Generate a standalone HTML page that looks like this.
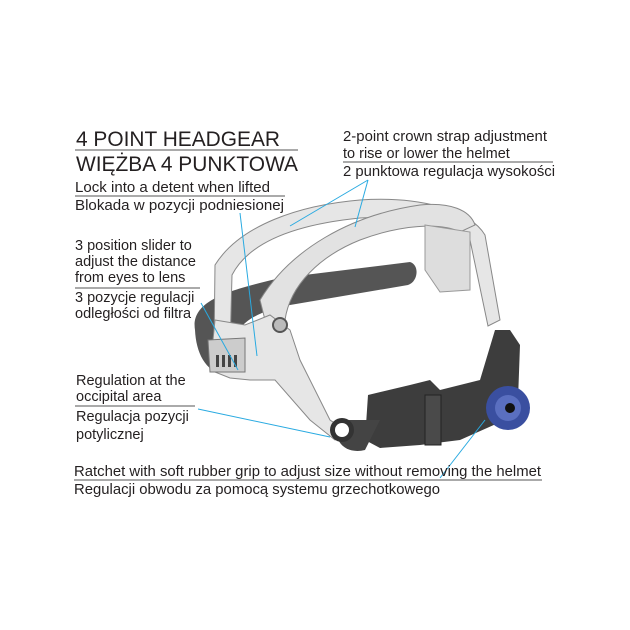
<!DOCTYPE html>
<html><head><meta charset="utf-8"><style>
html,body{margin:0;padding:0;background:#fff;}
svg{display:block}
text{font-family:"Liberation Sans",sans-serif;fill:#231f20;}
</style></head><body>
<svg width="630" height="630" viewBox="0 0 630 630" xmlns="http://www.w3.org/2000/svg">
<!-- dark back band -->
<path d="M195,330 C190,300 230,290 280,278 L410,262 C420,265 418,282 408,285 L290,305 C250,312 230,330 235,350 L225,375 C205,372 196,352 195,330 Z" fill="#555"/>
<path d="M368,395 L410,385 L430,380 L440,390 L480,380 L495,330 L510,330 L520,345 L518,400 L505,420 L460,440 L420,445 L380,448 L365,440 Z" fill="#3d3d3d"/>
<path d="M340,420 C330,440 345,455 365,450 L380,420 Z" fill="#444"/>
<!-- light straps -->
<path d="M215,265 C240,225 300,205 360,200 C420,196 470,210 485,235 L500,320 L488,326 L470,240 C450,222 410,215 360,218 C300,224 250,240 232,275 L230,350 L214,350 Z" fill="#e6e6e6" stroke="#888" stroke-width="1"/>
<path d="M260,300 C290,250 350,215 420,205 C450,202 470,210 475,225 L460,232 C440,222 400,225 360,240 C320,256 290,285 285,320 L270,340 Z" fill="#e2e2e2" stroke="#888" stroke-width="1"/>
<path d="M215,320 L245,325 L270,315 L290,330 L300,360 L330,420 L345,430 L335,440 L310,420 L275,380 L250,380 L230,378 L210,370 Z" fill="#e6e6e6" stroke="#888" stroke-width="1"/>
<path d="M425,225 L470,232 L470,290 L440,292 L425,270 Z" fill="#ddd" stroke="#999"/>
<path d="M208,340 L245,338 L245,372 L210,372 Z" fill="#ccc" stroke="#777"/>
<g fill="#444"><rect x="216" y="355" width="3" height="12"/><rect x="222" y="355" width="3" height="12"/><rect x="228" y="355" width="3" height="12"/><rect x="234" y="355" width="3" height="12"/></g>
<circle cx="280" cy="325" r="7" fill="#bbb" stroke="#555" stroke-width="2"/>
<circle cx="342" cy="430" r="12" fill="#333"/><circle cx="342" cy="430" r="7" fill="#fff"/>
<rect x="425" y="395" width="16" height="50" fill="#4a4a4a" stroke="#222"/>
<circle cx="508" cy="408" r="22" fill="#3a4fa0"/><circle cx="508" cy="408" r="13" fill="#5a6fc0"/><circle cx="510" cy="408" r="5" fill="#111"/>
<!-- leader lines -->
<g stroke="#29aae1" stroke-width="1" fill="none">
<line x1="368" y1="180" x2="290" y2="226"/><line x1="368" y1="180" x2="355" y2="227"/>
<line x1="240" y1="213" x2="257" y2="356"/>
<line x1="201" y1="303" x2="238" y2="370"/>
<line x1="198" y1="409" x2="330" y2="437"/>
<line x1="485" y1="420" x2="440" y2="478"/>
</g>
<!-- rules -->
<g stroke="#555" stroke-width="1">
<line x1="75" y1="150" x2="298" y2="150"/>
<line x1="75" y1="196" x2="285" y2="196"/>
<line x1="75" y1="288" x2="200" y2="288"/>
<line x1="75" y1="406" x2="195" y2="406"/>
<line x1="74" y1="480" x2="542" y2="480"/>
<line x1="343" y1="162" x2="553" y2="162"/>
</g>
<g font-size="21">
<text x="76" y="146" textLength="204" lengthAdjust="spacingAndGlyphs">4 POINT HEADGEAR</text>
<text x="76" y="171" textLength="222" lengthAdjust="spacingAndGlyphs">WIĘŻBA 4 PUNKTOWA</text>
</g>
<g font-size="14.5">
<text x="75" y="192" textLength="195" lengthAdjust="spacingAndGlyphs">Lock into a detent when lifted</text>
<text x="75" y="210" textLength="209" lengthAdjust="spacingAndGlyphs">Blokada w pozycji podniesionej</text>
<text x="75" y="250">3 position slider to</text>
<text x="75" y="266">adjust the distance</text>
<text x="75" y="282">from eyes to lens</text>
<text x="75" y="302">3 pozycje regulacji</text>
<text x="75" y="318">odległości od filtra</text>
<text x="76" y="385">Regulation at the</text>
<text x="76" y="401">occipital area</text>
<text x="76" y="421">Regulacja pozycji</text>
<text x="76" y="439">potylicznej</text>
<text x="74" y="476" textLength="467" lengthAdjust="spacingAndGlyphs">Ratchet with soft rubber grip to adjust size without removing the helmet</text>
<text x="74" y="494" textLength="366" lengthAdjust="spacingAndGlyphs">Regulacji obwodu za pomocą systemu grzechotkowego</text>
<text x="343" y="141" textLength="204" lengthAdjust="spacingAndGlyphs">2-point crown strap adjustment</text>
<text x="343" y="158">to rise or lower the helmet</text>
<text x="343" y="176" textLength="212" lengthAdjust="spacingAndGlyphs">2 punktowa regulacja wysokości</text>
</g>
</svg>
</body></html>
